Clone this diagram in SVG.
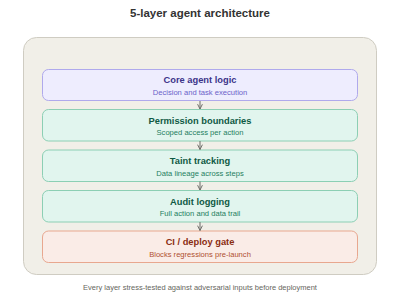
<svg xmlns="http://www.w3.org/2000/svg" width="400" height="300" viewBox="0 0 400 300">
<defs>
<marker id="ah" viewBox="0 0 10 10" refX="9" refY="5" markerWidth="6" markerHeight="6" orient="auto"><path d="M1 1L9 5L1 9" fill="none" stroke="#6b6b66" stroke-width="1.6"/></marker>
<style>
text{font-family:"Liberation Sans",Arial,sans-serif;text-anchor:middle}
.t{font-size:9.3px;font-weight:bold}
.s{font-size:7.6px}
.p rect{fill:#eeedfe;stroke:#afa9ec}.p .t{fill:#3c3489}.p .s{fill:#6b62c9}
.g rect{fill:#e1f5ee;stroke:#8ccfb4}.g .t{fill:#0f5a44}.g .s{fill:#1f7e60}
.r rect{fill:#faece7;stroke:#e8a78f}.r .t{fill:#8a2d12}.r .s{fill:#b04f30}
.c{stroke:#6b6b66;stroke-width:1;fill:none}
</style>
</defs>
<rect width="400" height="300" fill="#ffffff"/>
<text x="200" y="16.5" style="font-size:11.5px;font-weight:bold;fill:#333333">5-layer agent architecture</text>
<rect id="container" x="23.5" y="37.5" width="353" height="237" rx="13" fill="#f1efe8" stroke="#cfccc2"/>
<g id="n1" class="p"><rect x="42.5" y="69.5" width="315" height="31" rx="6"/><text class="t" x="200" y="83.3">Core agent logic</text><text class="s" x="200" y="94.5">Decision and task execution</text></g>
<g id="n2" class="g"><rect x="42.5" y="109.5" width="315" height="31.5" rx="6"/><text class="t" x="200" y="124">Permission boundaries</text><text class="s" x="200" y="135">Scoped access per action</text></g>
<g id="n3" class="g"><rect x="42.5" y="150" width="315" height="31.5" rx="6"/><text class="t" x="200" y="164">Taint tracking</text><text class="s" x="200" y="175.5">Data lineage across steps</text></g>
<g id="n4" class="g"><rect x="42.5" y="190.5" width="315" height="31.5" rx="6"/><text class="t" x="200" y="204.5">Audit logging</text><text class="s" x="200" y="216">Full action and data trail</text></g>
<g id="n5" class="r"><rect x="42.5" y="231" width="315" height="31.5" rx="6"/><text class="t" x="200" y="245">CI / deploy gate</text><text class="s" x="200" y="256.5">Blocks regressions pre-launch</text></g>
<g id="connectors">
<line class="c" x1="200" y1="101" x2="200" y2="109" marker-end="url(#ah)"/>
<line class="c" x1="200" y1="141" x2="200" y2="149.5" marker-end="url(#ah)"/>
<line class="c" x1="200" y1="181.5" x2="200" y2="190" marker-end="url(#ah)"/>
<line class="c" x1="200" y1="222" x2="200" y2="230.5" marker-end="url(#ah)"/>
</g>
<text x="200" y="290" style="font-size:7.5px;fill:#666660">Every layer stress-tested against adversarial inputs before deployment</text>
</svg>
